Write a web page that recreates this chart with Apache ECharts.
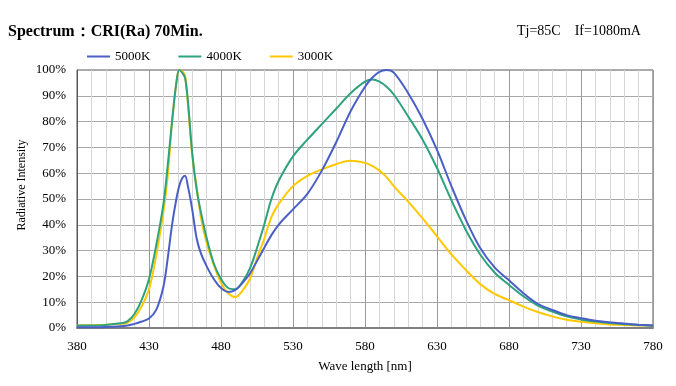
<!DOCTYPE html>
<html>
<head>
<meta charset="utf-8">
<script src="https://cdn.jsdelivr.net/npm/echarts@6/dist/echarts.min.js"></script>
<style>
html,body{margin:0;padding:0;background:#fff;}
#chart{width:676px;height:386px;}
</style>
</head>
<body>
<div id="chart"></div>
<script>
const wavelengths = [380,390,400,410,415,420,425,430,435,440,443,446,449,451,453,455,457,460,463,466,470,475,480,485,490,495,500,505,510,515,520,530,540,550,560,570,580,585,590,595,600,610,620,630,640,650,660,670,680,690,700,710,720,730,740,750,760,770,780];
const k5000 = [0.3,0.3,0.4,0.7,1.0,1.6,2.5,3.7,7,16,27,40,50,55,58,59,55,46,35,29,24,19,15.5,14,14.8,17.5,21,26,31,36,40,46,52,61,72,84,93.5,97,99.3,100,99,91,81,69,55,42,31,23.5,18.5,13.5,9.4,7,5,3.8,2.8,2.2,1.7,1.3,1.0];
const k4000 = [1.0,1.0,1.2,1.8,2.6,5.5,11,19,32,48,63,80,95,100,99,97,88,68,54,45,35,25,19,15.5,15,18,23,31,40,50,57,66.5,73,79,85,91,95.5,96.3,95.5,93.5,90.5,82,73,62,49.5,38,28.5,21.5,16.7,12.3,8.7,6.4,4.5,3.3,2.5,1.9,1.5,1.2,0.9];
const k3000 = [1.0,1.1,1.3,1.6,2.0,4.2,8.5,15,28,45,59,80,95,100,99.5,98,87,67,55,43,33,24.5,17.5,13.5,12,14.5,19,27,34.5,43,48,55,59,61.5,63.5,64.8,64,62.8,61,58.5,55,49,42.5,35.5,28.5,22.5,17,13.2,10.8,8.3,6.2,4.5,3.2,2.4,1.8,1.4,1.2,1.0,0.9];
const seriesNames = ['5000K','4000K','3000K'];
const seriesColors = ['#4a5fc6','#2ea27e','#ffc800'];
const titleText = 'Spectrum：CRI(Ra) 70Min.';
const condText = 'Tj=85C    If=1080mA';

const serif = '"Liberation Serif", "Times New Roman", serif';
const chart = echarts.init(document.getElementById('chart'));
const pairs = arr => wavelengths.map((w,i)=>[w,arr[i]]);
const datasets = [k5000,k4000,k3000];

chart.setOption({
  animation:false,
  backgroundColor:'#fff',
  title:[
    {text:titleText,left:8,top:24,padding:0,textStyle:{fontFamily:serif,fontSize:16,fontWeight:'bold',color:'#000'}},
    {text:condText,left:517,top:24,padding:0,textStyle:{fontFamily:serif,fontSize:14,fontWeight:'normal',color:'#000'}}
  ],
  legend:{
    left:87,top:50,padding:0,itemGap:28,itemWidth:23,itemHeight:2,icon:'rect',
    textStyle:{fontFamily:serif,fontSize:13,color:'#000'},
    data:seriesNames
  },
  grid:{left:77,right:23,top:70,bottom:58,show:true,borderColor:'#595959',borderWidth:1,containLabel:false},
  xAxis:{
    type:'value',min:380,max:780,interval:50,
    name:'Wave length [nm]',nameLocation:'middle',nameGap:32,
    nameTextStyle:{fontFamily:serif,fontSize:13,color:'#000'},
    axisLine:{show:true,lineStyle:{color:'#808080',width:2}},
    axisTick:{show:false},
    axisLabel:{fontFamily:serif,fontSize:13,color:'#000',margin:12},
    splitLine:{show:true,lineStyle:{color:'#9a9a9a',width:1}},
    minorTick:{show:false,splitNumber:5},
    minorSplitLine:{show:true,lineStyle:{color:'#d6d6d6',width:1}}
  },
  yAxis:{
    type:'value',min:0,max:100,interval:10,
    axisLine:{show:true,lineStyle:{color:'#595959',width:1}},
    axisTick:{show:false},
    axisLabel:{fontFamily:serif,fontSize:13,color:'#000',margin:11,formatter:'{value}%'},
    splitLine:{show:true,lineStyle:{color:'#a8a8a8',width:1}}
  },
  graphic:[
    {type:'text',x:22,y:185,rotation:Math.PI/2,
     style:{text:'Radiative Intensity',fontFamily:serif,fontSize:12,fill:'#000',align:'center',verticalAlign:'middle'}}
  ],
  series:seriesNames.map((n,i)=>({
    name:n,type:'line',data:pairs(datasets[i]),smooth:0.35,showSymbol:false,
    lineStyle:{color:seriesColors[i],width:2},itemStyle:{color:seriesColors[i]},
    z:3-i
  }))
});
</script>
</body>
</html>
